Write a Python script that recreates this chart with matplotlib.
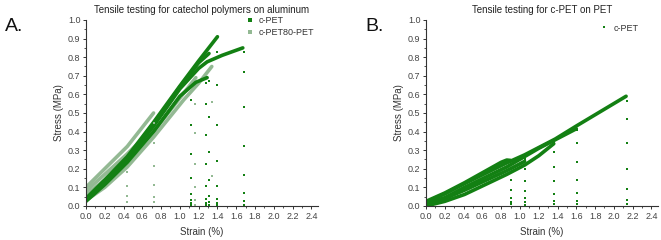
import matplotlib
matplotlib.use("Agg")
import matplotlib.pyplot as plt
from matplotlib.lines import Line2D
from matplotlib.ticker import MultipleLocator
import numpy as np

plt.rcParams['font.family'] = ['Liberation Sans', 'DejaVu Sans']

DARK = '#138013'
LIGHT = '#93b993'

# ---- panel A: catechol polymers on aluminum ----
a_dark_curves = [
    ([0, 0.2, 0.44, 0.72, 1.0, 1.2, 1.40], [0.04, 0.14, 0.265, 0.45, 0.645, 0.78, 0.91]),
    ([0, 0.2, 0.44, 0.72, 1.0, 1.2, 1.29, 1.45, 1.67], [0.03, 0.125, 0.25, 0.43, 0.63, 0.74, 0.775, 0.81, 0.85]),
    ([0, 0.2, 0.44, 0.72, 1.0, 1.2, 1.31], [0.035, 0.13, 0.255, 0.44, 0.64, 0.77, 0.82]),
    ([0, 0.2, 0.44, 0.72, 1.0, 1.17, 1.29], [0.025, 0.115, 0.235, 0.40, 0.59, 0.665, 0.69]),
]
a_light_curves = [
    ([0, 0.2, 0.44, 0.72, 1.04, 1.2, 1.34], [0.03, 0.10, 0.21, 0.37, 0.57, 0.66, 0.75]),
    ([0, 0.2, 0.44, 0.72, 1.0, 1.17], [0.06, 0.14, 0.25, 0.40, 0.58, 0.69]),
    ([0, 0.2, 0.44, 0.72], [0.08, 0.17, 0.28, 0.42]),
    ([0, 0.2, 0.44, 0.72], [0.10, 0.20, 0.32, 0.50]),
]
a_dark_strain = [1.12, 1.28, 1.31, 1.40, 1.685]
a_dark_drops = [
    [0.57, 0.435, 0.28, 0.15, 0.065, 0.03, 0.015, 0.005],
    [0.66, 0.55, 0.38, 0.225, 0.11, 0.04, 0.015, 0.005],
    [0.67, 0.48, 0.29, 0.14, 0.055, 0.02, 0.005],
    [0.83, 0.65, 0.435, 0.24, 0.107, 0.04, 0.015, 0.005],
    [0.83, 0.72, 0.53, 0.325, 0.167, 0.072, 0.025, 0.008],
]
a_light_strain = [0.44, 0.72, 1.165, 1.34]
a_light_drops = [
    [0.185, 0.11, 0.053, 0.02],
    [0.445, 0.337, 0.215, 0.113, 0.05, 0.02],
    [0.55, 0.39, 0.225, 0.10, 0.03, 0.008],
    [0.56, 0.16],
]

# ---- panel B: c-PET on PET ----
b_curves = [
    ([0, 0.2, 0.41, 0.86, 1.2, 1.6], [0.012, 0.045, 0.10, 0.21, 0.31, 0.415]),
    ([0, 0.2, 0.41, 0.86, 1.05], [0.01, 0.04, 0.085, 0.19, 0.24]),
    ([0, 0.2, 0.41, 0.86, 1.05, 1.2, 1.36], [0.0, 0.025, 0.062, 0.17, 0.22, 0.27, 0.335]),
    ([0, 0.2, 0.41, 0.80, 0.86, 0.90], [0.025, 0.07, 0.125, 0.235, 0.247, 0.245]),
    ([0, 0.2, 0.41, 0.86, 1.05, 1.375, 1.6, 2.13], [0.02, 0.065, 0.12, 0.232, 0.275, 0.36, 0.43, 0.59]),
]
b_strain = [0.91, 1.05, 1.36, 1.605, 2.14]
b_drops = [
    [0.245, 0.20, 0.14, 0.085, 0.045, 0.022, 0.01],
    [0.25, 0.197, 0.137, 0.082, 0.045, 0.02, 0.008],
    [0.345, 0.29, 0.212, 0.135, 0.066, 0.025, 0.01],
    [0.41, 0.337, 0.237, 0.14, 0.072, 0.025, 0.01],
    [0.565, 0.47, 0.337, 0.2, 0.09, 0.03, 0.01],
]


def style_axes(ax, title):
    ax.set_xlim(0, 2.47)
    ax.set_ylim(0, 1.0)
    for s in ['top', 'right']:
        ax.spines[s].set_visible(False)
    for s in ['left', 'bottom']:
        ax.spines[s].set_color('#333333')
        ax.spines[s].set_linewidth(0.8)
    ax.xaxis.set_major_locator(MultipleLocator(0.2))
    ax.xaxis.set_minor_locator(MultipleLocator(0.1))
    ax.yaxis.set_major_locator(MultipleLocator(0.1))
    ax.yaxis.set_minor_locator(MultipleLocator(0.05))
    ax.tick_params(which='major', direction='out', length=2.5, width=0.7,
                   labelsize=6.5, colors='#333333', labelcolor='#444444', pad=1.5)
    ax.tick_params(which='minor', direction='out', length=1.5, width=0.6, colors='#333333')
    ax.xaxis.set_major_formatter(plt.FuncFormatter(lambda v, p: f'{v:.1f}'))
    ax.yaxis.set_major_formatter(plt.FuncFormatter(lambda v, p: f'{v:.1f}'))
    ax.set_xlabel('Strain (%)', fontsize=7, color='#333333', labelpad=5)
    ax.set_ylabel('Stress (MPa)', fontsize=7, color='#333333', labelpad=3)
    ax.set_title(title, fontsize=7, color='#222222', pad=5)


fig = plt.figure(figsize=(6.61, 2.40), dpi=100)
axA = fig.add_axes([0.130, 0.1417, 0.351, 0.775])
axB = fig.add_axes([0.6445, 0.1417, 0.351, 0.775])

for xs, ys in a_light_curves:
    axA.plot(xs, ys, color=LIGHT, lw=2.6, solid_capstyle='round', solid_joinstyle='round')
for xs, ys in a_dark_curves:
    axA.plot(xs, ys, color=DARK, lw=2.6, solid_capstyle='round', solid_joinstyle='round')
for x, col in zip(a_light_strain, a_light_drops):
    axA.plot(np.full(len(col), x), col, 's', color=LIGHT, ms=1.9, mew=0)
for x, col in zip(a_dark_strain, a_dark_drops):
    axA.plot(np.full(len(col), x), col, 's', color=DARK, ms=1.9, mew=0)
style_axes(axA, 'Tensile testing for catechol polymers on aluminum')
handlesA = [Line2D([], [], ls='none', marker='s', color=DARK, ms=2.4, mew=0),
            Line2D([], [], ls='none', marker='s', color=LIGHT, ms=2.4, mew=0)]
axA.legend(handlesA, ['c-PET', 'c-PET80-PET'], loc='upper right', frameon=False,
           fontsize=6.5, handlelength=0.8, handletextpad=0.6, labelspacing=0.3,
           borderaxespad=0.0, bbox_to_anchor=(1.0, 1.04), labelcolor='#333333')

for xs, ys in b_curves:
    axB.plot(xs, ys, color=DARK, lw=2.6, solid_capstyle='round', solid_joinstyle='round')
for x, col in zip(b_strain, b_drops):
    axB.plot(np.full(len(col), x), col, 's', color=DARK, ms=1.9, mew=0)
style_axes(axB, 'Tensile testing for c-PET on PET')
handlesB = [Line2D([], [], ls='none', marker='s', color=DARK, ms=1.8, mew=0)]
axB.legend(handlesB, ['c-PET'], loc='upper right', frameon=False,
           fontsize=6.5, handlelength=0.8, handletextpad=0.6,
           borderaxespad=0.0, bbox_to_anchor=(0.93, 1.0), labelcolor='#333333')

fig.text(0.008, 0.87, 'A.', fontsize=14, color='#111111')
fig.text(0.553, 0.87, 'B.', fontsize=14, color='#111111')

fig.savefig('out.png', dpi=100)
